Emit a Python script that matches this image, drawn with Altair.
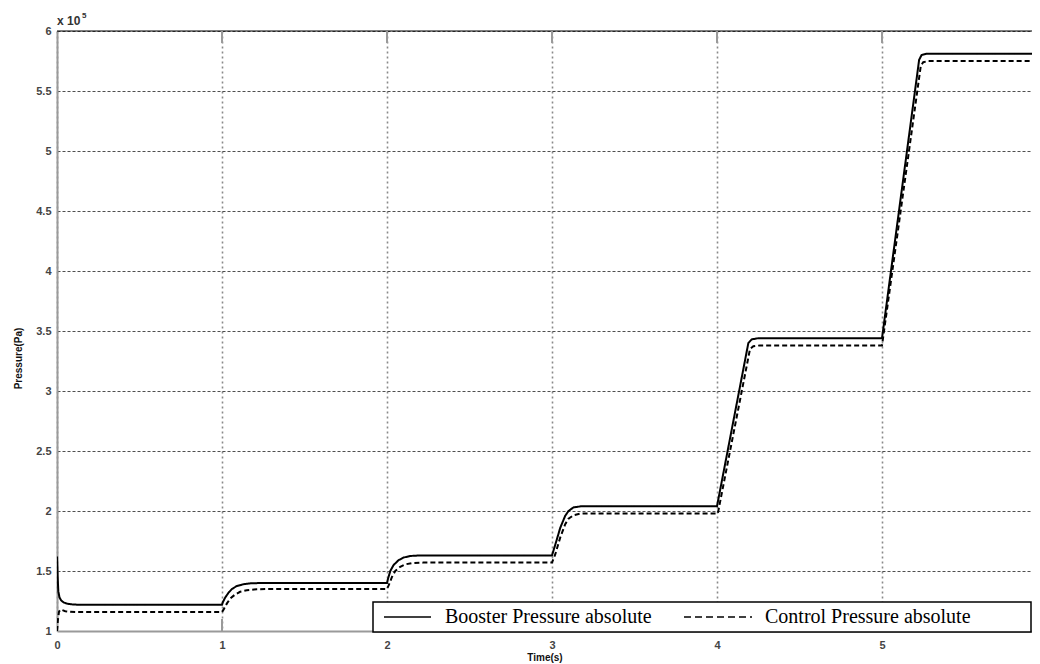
import altair as alt
import pandas as pd

# ---------------- data (pressure in units of 1e5 Pa) ----------------
series_names = ["Booster Pressure absolute", "Control Pressure absolute"]

booster_t = [0.000, 0.004, 0.008, 0.015, 0.025, 0.04, 0.06, 0.09, 0.14, 1.000,
             1.005, 1.02, 1.04, 1.06, 1.09, 1.13, 1.18, 1.25, 2.00,
             2.005, 2.02, 2.04, 2.07, 2.10, 2.14, 2.20, 3.00,
             3.02, 3.05, 3.08, 3.10, 3.13, 3.18, 4.00,
             4.19, 4.21, 4.25, 5.00,
             5.225, 5.24, 5.27, 5.96]
booster_p = [1.62, 1.45, 1.33, 1.28, 1.255, 1.238, 1.228, 1.222, 1.218, 1.218,
             1.24, 1.28, 1.32, 1.35, 1.375, 1.39, 1.398, 1.40, 1.40,
             1.43, 1.50, 1.55, 1.59, 1.612, 1.625, 1.63, 1.63,
             1.72, 1.86, 1.96, 2.00, 2.03, 2.04, 2.04,
             3.40, 3.43, 3.44, 3.44,
             5.76, 5.80, 5.81, 5.81]

control_t = [0.000, 0.006, 0.012, 0.02, 0.03, 0.05, 0.08, 0.12, 1.000,
             1.01, 1.03, 1.05, 1.08, 1.11, 1.15, 1.21, 1.28, 2.00,
             2.01, 2.03, 2.05, 2.08, 2.11, 2.15, 2.22, 3.00,
             3.02, 3.05, 3.08, 3.10, 3.13, 3.17, 3.22, 4.00,
             4.005, 4.20, 4.22, 4.26, 5.00,
             5.235, 5.25, 5.28, 5.96]
control_p = [1.00, 1.10, 1.16, 1.178, 1.175, 1.165, 1.16, 1.158, 1.158,
             1.18, 1.23, 1.27, 1.305, 1.327, 1.34, 1.348, 1.35, 1.35,
             1.38, 1.45, 1.50, 1.535, 1.555, 1.566, 1.57, 1.57,
             1.64, 1.78, 1.89, 1.935, 1.965, 1.978, 1.98, 1.98,
             1.98, 3.35, 3.373, 3.38, 3.38,
             5.71, 5.74, 5.75, 5.75]

x_ticks = [0, 1, 2, 3, 4, 5]
y_ticks = [1, 1.5, 2, 2.5, 3, 3.5, 4, 4.5, 5, 5.5, 6]
x_domain = [0, 5.909]
y_domain = [1, 6]

# ---------------- build table ----------------
rows = []
for i, (t, p) in enumerate(zip(booster_t, booster_p)):
    rows.append({"t": t, "p": p, "series": series_names[0], "idx": i})
for i, (t, p) in enumerate(zip(control_t, control_p)):
    rows.append({"t": t, "p": p, "series": series_names[1], "idx": i})
df = pd.DataFrame(rows)

W, H = 975, 600
xscale = alt.Scale(domain=x_domain, nice=False, zero=False)
yscale = alt.Scale(domain=y_domain, nice=False, zero=False)

x_axis = alt.Axis(
    values=x_ticks, title="Time(s)", grid=True, gridColor="#8a8a8a",
    gridDash=[2, 3], gridWidth=1.6, domainColor="#9a9a9a", domainWidth=2,
    ticks=False, labelFont="Liberation Sans", labelFontWeight="bold",
    labelFontSize=11, labelColor="#444444", labelPadding=8, labelFlush=False,
    format="~g",
    titleFont="Liberation Sans", titleFontSize=10, titleFontWeight="bold",
    titleColor="#111111", titleBaseline="middle", titleY=26)
y_axis = alt.Axis(
    values=y_ticks, title="Pressure(Pa)", grid=True, gridColor="#222222",
    gridDash=[3, 2], gridWidth=0.8, domainColor="#9a9a9a", domainWidth=2,
    ticks=False, labelFont="Liberation Sans", labelFontWeight="bold",
    labelFontSize=11, labelColor="#444444", labelPadding=6, labelFlush=False,
    format="~g",
    titleFont="Liberation Sans", titleFontSize=10, titleFontWeight="bold",
    titleColor="#111111", titleBaseline="middle", titleAlign="center",
    titleX=-39, titleY=327)

X = alt.X("t:Q", scale=xscale, axis=x_axis, title="Time(s)")
Y = alt.Y("p:Q", scale=yscale, axis=y_axis, title="Pressure(Pa)")

lines = alt.Chart(df).mark_line(color="black", strokeWidth=2, clip=True).encode(
    x=X, y=Y,
    strokeDash=alt.StrokeDash("series:N", scale=alt.Scale(domain=series_names,
                              range=[[1, 0], [5, 3]]), legend=None),
    detail="series:N",
    order="idx:Q",
)

# top frame line
top_df = pd.DataFrame({"p": [y_domain[1]]})
top_line = alt.Chart(top_df).mark_rule(color="black", strokeWidth=1.2).encode(y=Y)

# inward tick marks at top and bottom
tick_df = pd.DataFrame({"t": x_ticks[1:]})
top_ticks = alt.Chart(tick_df).mark_rule(color="#9a9a9a", strokeWidth=2).encode(
    x=X, y=alt.value(0), y2=alt.value(12))
bot_ticks = alt.Chart(tick_df).mark_rule(color="#9a9a9a", strokeWidth=2).encode(
    x=X, y=alt.value(H - 12), y2=alt.value(H))

# multiplier label
mult = alt.Chart(pd.DataFrame({"s": ["x 10"]})).mark_text(
    align="left", baseline="alphabetic", font="Liberation Sans", fontWeight="bold",
    fontSize=12, color="#333333").encode(x=alt.value(0), y=alt.value(-6), text="s:N")
mult_exp = alt.Chart(pd.DataFrame({"s": ["5"]})).mark_text(
    align="left", baseline="alphabetic", font="Liberation Sans", fontWeight="bold",
    fontSize=8, color="#333333").encode(x=alt.value(25), y=alt.value(-13), text="s:N")

# legend box
box = alt.Chart(pd.DataFrame({"a": [0]})).mark_rect(
    fill="white", stroke="black", strokeWidth=1.5).encode(
    x=alt.value(316), x2=alt.value(974), y=alt.value(571), y2=alt.value(601))
sample1 = alt.Chart(pd.DataFrame({"a": [0]})).mark_rule(color="black", strokeWidth=1.5).encode(
    x=alt.value(327), x2=alt.value(374), y=alt.value(586))
sample2 = alt.Chart(pd.DataFrame({"a": [0]})).mark_rule(
    color="black", strokeWidth=1.5, strokeDash=[7, 4]).encode(
    x=alt.value(627), x2=alt.value(695), y=alt.value(586))
label1 = alt.Chart(pd.DataFrame({"name": [series_names[0]]})).mark_text(
    align="left", baseline="middle", font="Liberation Serif", fontSize=20,
    color="black").encode(x=alt.value(388), y=alt.value(586), text="name:N")
label2 = alt.Chart(pd.DataFrame({"name": [series_names[1]]})).mark_text(
    align="left", baseline="middle", font="Liberation Serif", fontSize=20,
    color="black").encode(x=alt.value(708), y=alt.value(586), text="name:N")

chart = alt.layer(
    lines, top_line, top_ticks, bot_ticks, mult, mult_exp,
    box, sample1, sample2, label1, label2
).properties(
    width=W, height=H,
    autosize=alt.AutoSizeParams(type="none"),
    padding={"left": 49, "top": 23, "right": 0, "bottom": 33},
    background="white",
).configure_view(stroke=None)

chart.save("out.html", embed_options={"renderer": "svg", "actions": False})
